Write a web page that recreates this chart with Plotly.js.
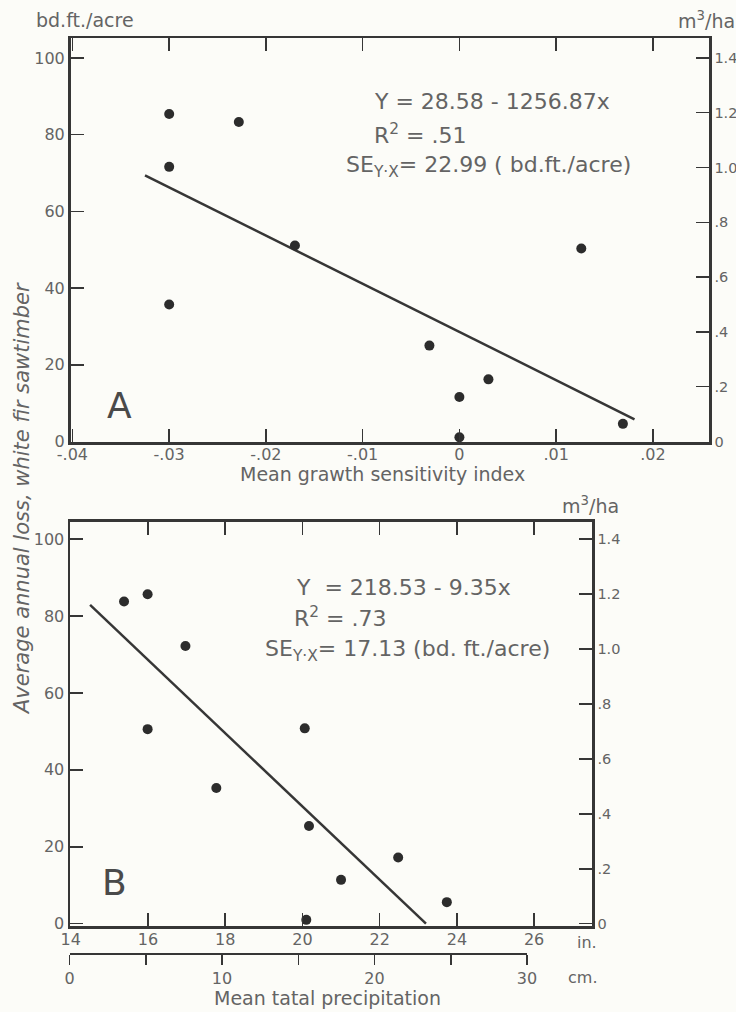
<!DOCTYPE html>
<html><head><meta charset="utf-8">
<script src="https://cdn.plot.ly/plotly-3.0.1.min.js"></script>
<style>html,body{margin:0;padding:0;background:#fcfcf8;}</style>
</head><body><div id="chart" style="width:736px;height:1012px;"></div>
<script>
// ---- Panel A: loss vs mean growth sensitivity index ----
const sensIndex = [-0.030, -0.030, -0.030, -0.0228, -0.0170, -0.0031, 0.0, 0.0, 0.0030, 0.0126, 0.0169];
const lossA     = [85.4, 71.6, 35.7, 83.3, 51.1, 25.0, 11.6, 1.1, 16.2, 50.3, 4.6];
const fitAx = [-0.0325, 0.0181];
const fitAy = [69.4, 5.8];
// ---- Panel B: loss vs mean total precipitation (in.) ----
const precipIn = [15.38, 15.99, 16.97, 15.99, 17.77, 20.06, 20.17, 22.48, 21.0, 23.74, 20.1];
const lossB    = [83.8, 85.7, 72.2, 50.6, 35.3, 50.8, 25.4, 17.2, 11.4, 5.6, 1.0];
const fitBx = [14.5, 23.2];
const fitBy = [82.9, 0.0];
// ---- tick labels ----
const lossTicks = [0, 20, 40, 60, 80, 100];
const lossTickText = ['0', '20', '40', '60', '80', '100'];
const m3Ticks = [0, 0.2, 0.4, 0.6, 0.8, 1.0, 1.2, 1.4];
const m3TickText = ['0', '.2', '.4', '.6', '.8', '1.0', '1.2', '1.4'];
const sensTicks = [-0.04, -0.03, -0.02, -0.01, 0, 0.01, 0.02];
const sensTickText = ['-.04', '-.03', '-.02', '-.01', '0', '.01', '.02'];
const inTicks = [14, 16, 18, 20, 22, 24, 26];
const inTickText = ['14', '16', '18', '20', '22', '24', '26'];
const cmTicks = [0, 5, 10, 15, 20, 25, 30];
const cmTickText = ['0', '', '10', '', '20', '', '30'];
const m3PerBdft = 0.014;

const W = 736, H = 1012;
const px = x => x / W, py = y => 1 - y / H;
const FAM = '"DejaVu Sans", sans-serif';
const TXT = '#646464';
const LINE = '#363636';
const FONT = {family: FAM, size: 16, color: TXT};
const RFONT = {family: FAM, size: 14.5, color: TXT};

function axisBase(extra) {
  return Object.assign({
    showgrid: false, zeroline: false, showline: true, linecolor: LINE, linewidth: 2.5,
    ticks: 'inside', ticklen: 13, tickwidth: 1.5, tickcolor: LINE, tickfont: FONT,
    tickmode: 'array', fixedrange: true
  }, extra);
}

const yA = [-0.13, 105.2];
const yB = [-0.6, 104.6];
const ghost = {mode: 'markers', marker: {opacity: 0, size: 1}, hoverinfo: 'skip'};

const traces = [
  {x: fitAx, y: fitAy, xaxis: 'x', yaxis: 'y', mode: 'lines', line: {color: LINE, width: 2.5}, hoverinfo: 'skip'},
  {x: sensIndex, y: lossA, xaxis: 'x', yaxis: 'y', mode: 'markers', marker: {color: '#2c2c2c', size: 10}},
  Object.assign({x: sensIndex, y: lossA.map(v => v * m3PerBdft), xaxis: 'x', yaxis: 'y2'}, ghost),
  {x: fitBx, y: fitBy, xaxis: 'x2', yaxis: 'y3', mode: 'lines', line: {color: LINE, width: 2.5}, hoverinfo: 'skip'},
  {x: precipIn, y: lossB, xaxis: 'x2', yaxis: 'y3', mode: 'markers', marker: {color: '#2c2c2c', size: 10}},
  Object.assign({x: precipIn, y: lossB.map(v => v * m3PerBdft), xaxis: 'x2', yaxis: 'y4'}, ghost),
  Object.assign({x: cmTicks, y: cmTicks.map(() => 0.5), xaxis: 'x3', yaxis: 'y5'}, ghost)
];

function ann(text, x, y, opts) {
  return Object.assign({text: text, x: px(x), y: py(y), xref: 'paper', yref: 'paper',
    showarrow: false, xanchor: 'left', yanchor: 'middle', font: FONT}, opts || {});
}
const EQ = {family: FAM, size: 22, color: TXT};
const LBL = {family: FAM, size: 19, color: TXT};
const BIG = {family: FAM, size: 36, color: '#4a4a4a'};

const layout = {
  width: W, height: H, margin: {l: 0, r: 0, t: 0, b: 0},
  paper_bgcolor: '#fcfcf8', plot_bgcolor: 'rgba(0,0,0,0)', showlegend: false,
  xaxis: axisBase({domain: [px(70.5), px(709)], range: [-0.0402, 0.0258], anchor: 'y', mirror: 'ticks',
    tickvals: sensTicks, ticktext: sensTickText, ticklabelstandoff: -4}),
  yaxis: axisBase({domain: [py(442), py(38)], range: yA, anchor: 'x',
    tickvals: lossTicks, ticktext: lossTickText}),
  yaxis2: axisBase({overlaying: 'y', side: 'right', anchor: 'x', range: [yA[0] * m3PerBdft, yA[1] * m3PerBdft],
    tickvals: m3Ticks, ticktext: m3TickText, tickfont: RFONT}),
  xaxis2: axisBase({domain: [px(70), px(592)], range: [13.98, 27.5], anchor: 'y3', mirror: 'ticks',
    tickvals: inTicks, ticktext: inTickText, ticklabelstandoff: -3}),
  yaxis3: axisBase({domain: [py(926), py(521.5)], range: yB, anchor: 'x2',
    tickvals: lossTicks, ticktext: lossTickText}),
  yaxis4: axisBase({overlaying: 'y3', side: 'right', anchor: 'x2', range: [yB[0] * m3PerBdft, yB[1] * m3PerBdft],
    tickvals: m3Ticks, ticktext: m3TickText, tickfont: RFONT}),
  xaxis3: axisBase({domain: [px(69.5), px(527)], range: [0, 30], anchor: 'y5',
    side: 'bottom', ticks: 'outside', ticklen: 10, linewidth: 1.8,
    tickvals: cmTicks, ticktext: cmTickText}),
  yaxis5: {domain: [py(953), py(951)], range: [0, 1], anchor: 'x3', visible: false, fixedrange: true},
  annotations: [
    ann('bd.ft./acre', 34, 20, {font: LBL}),
    ann('m<sup>3</sup>/ha', 676, 20, {font: LBL}),
    ann('Y = 28.58 - 1256.87x', 372, 101.5, {font: EQ}),
    ann('R<sup>2</sup> = .51', 372, 134, {font: EQ}),
    ann('SE<sub>Y·X</sub>= 22.99 ( bd.ft./acre)', 344, 166.5, {font: EQ}),
    ann('A', 105, 405, {font: BIG}),
    ann('Mean grawth sensitivity index', 383, 474, {xanchor: 'center', font: LBL}),
    ann('<i>Average annual loss, white fir sawtimber</i>', 22, 499, {xanchor: 'center', textangle: -90,
      font: {family: FAM, size: 21, color: TXT}}),
    ann('m<sup>3</sup>/ha', 560, 505, {font: LBL}),
    ann('Y  = 218.53 - 9.35x', 294, 587, {font: EQ}),
    ann('R<sup>2</sup> = .73', 292, 617, {font: EQ}),
    ann('SE<sub>Y·X</sub>= 17.13 (bd. ft./acre)', 263, 650, {font: EQ}),
    ann('B', 100, 882, {font: BIG}),
    ann('in.', 587, 942, {xanchor: 'center'}),
    ann('cm.', 582, 977, {xanchor: 'center'}),
    ann('Mean tatal precipitation', 327, 998, {xanchor: 'center', font: LBL})
  ]
};

Plotly.newPlot('chart', traces, layout, {staticPlot: true, displayModeBar: false});
</script>
</body></html>
